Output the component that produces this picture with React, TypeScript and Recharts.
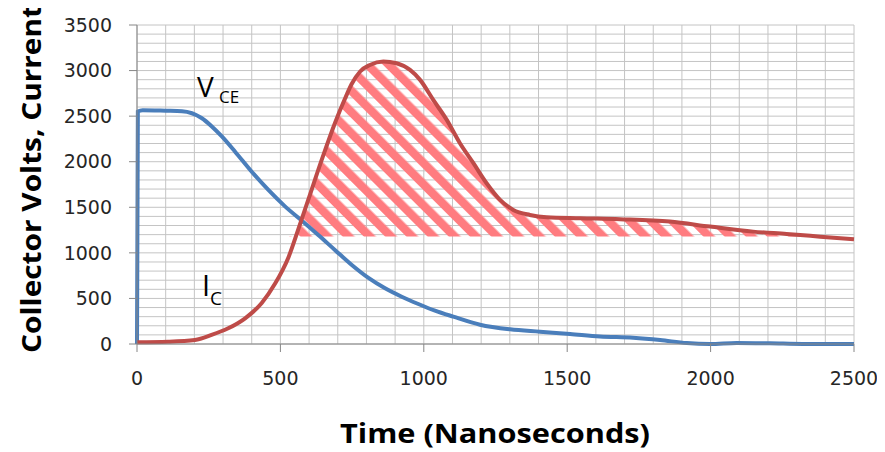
import React from "react";
import { ComposedChart, Line, Area, XAxis, YAxis, CartesianGrid } from "recharts";

// V_CE trace (blue)
const vceTime = [0, 3, 20, 100, 157, 225, 260, 295, 342, 400, 458, 516, 574, 632, 690, 749, 807, 865, 923, 981, 1039, 1103, 1196, 1301, 1405, 1510, 1614, 1730, 1824, 1917, 1998, 2091, 2207, 2322, 2400, 2500];
const vceVals = [0, 2550, 2565, 2560, 2555, 2480, 2390, 2280, 2110, 1890, 1690, 1510, 1355, 1196, 1032, 867, 725, 611, 519, 439, 366, 300, 212, 161, 135, 110, 82, 69, 44, 10, 0, 12, 8, 0, 0, 0];

// I_C trace (red)
const icTime = [0, 108, 202, 260, 318, 377, 435, 481, 528, 562, 597, 644, 690, 725, 748, 778, 812, 859, 905, 952, 987, 1033, 1080, 1126, 1173, 1219, 1266, 1312, 1370, 1428, 1545, 1684, 1858, 1998, 2148, 2265, 2382, 2500];
const icVals = [19, 25, 44, 99, 172, 282, 450, 660, 950, 1255, 1581, 2020, 2423, 2690, 2850, 2990, 3062, 3099, 3081, 3007, 2898, 2678, 2459, 2203, 1984, 1764, 1581, 1471, 1416, 1391, 1380, 1369, 1343, 1288, 1233, 1207, 1178, 1149];

// level the hatched area sits on
const hatchFloor = 1180;

const xLabelTicks = [0, 500, 1000, 1500, 2000, 2500];
const yLabelTicks = [0, 500, 1000, 1500, 2000, 2500, 3000, 3500];
const xGrid = Array.from({ length: 26 }, (_, i) => i * 100);
const yGrid = Array.from({ length: 36 }, (_, i) => i * 100);

const vceData = vceTime.map((t, i) => ({ t, vce: vceVals[i] }));
const icData = icTime.map((t, i) => ({ t, ic: icVals[i] }));
const hatchData = icTime.map((t, i) => ({ t, band: [hatchFloor, Math.max(icVals[i], hatchFloor)] }));

const AXIS = "#868686";
const TXT = "#262626";
const TICK_FONT = "'DejaVu Sans', sans-serif";
const XM = 28;
const YM = 25;

const XTick = (p: any) => {
  const v = p.payload.value;
  if (!xLabelTicks.includes(v)) return <g />;
  return (
    <g>
      <line x1={p.x} x2={p.x} y1={p.y - XM} y2={p.y - XM + 8} stroke={AXIS} />
      <text x={p.x} y={p.y} dy="0.71em" textAnchor="middle" fontSize={19} fontFamily={TICK_FONT} fill={TXT}>{v}</text>
    </g>
  );
};

const YTick = (p: any) => {
  const v = p.payload.value;
  if (!yLabelTicks.includes(v)) return <g />;
  return (
    <g>
      <line x1={p.x + YM - 8} x2={p.x + YM} y1={p.y} y2={p.y} stroke={AXIS} />
      <text x={p.x} y={p.y} dy="0.355em" textAnchor="end" fontSize={19} fontFamily={TICK_FONT} fill={TXT}>{v}</text>
    </g>
  );
};

export default function App() {
  return (
    <div style={{ position: "relative", width: 877, height: 444 }}>
      <ComposedChart width={877} height={444} margin={{ top: 17, right: 31, left: 29, bottom: 48 }}>
        <defs>
          <pattern id="hatch" patternUnits="userSpaceOnUse" width={15} height={15} patternTransform="rotate(-45)">
            <rect x={0} y={0} width={8.5} height={15} fill="#FF7C80" />
          </pattern>
        </defs>
        <CartesianGrid stroke="#c4c4c4" strokeWidth={1} />
        <XAxis dataKey="t" type="number" domain={[0, 2500]} ticks={xGrid} interval={0}
          allowDuplicatedCategory={false} height={60} stroke={AXIS} tickLine={false} tickSize={0} tickMargin={XM} tick={<XTick />} />
        <YAxis type="number" domain={[0, 3500]} ticks={yGrid} interval={0} width={100}
          stroke={AXIS} tickLine={false} tickSize={0} tickMargin={YM} tick={<YTick />} />
        <Line data={vceData} dataKey="vce" type="monotone" stroke="#4A7EBB" strokeWidth={4} dot={false} isAnimationActive={false} />
        <Line data={icData} dataKey="ic" type="monotone" stroke="#BE4B48" strokeWidth={4} dot={false} isAnimationActive={false} />
        <Area data={hatchData} dataKey="band" type="monotone" stroke="none" fill="url(#hatch)" fillOpacity={1} isAnimationActive={false} />
      </ComposedChart>
      <svg width={877} height={444} style={{ position: "absolute", left: 0, top: 0, pointerEvents: "none" }}>
        <text transform="translate(33,171) rotate(-90)" textAnchor="middle" fontFamily="'Open Sans', sans-serif" fontWeight="bold" fontSize={26} textLength={348} lengthAdjust="spacingAndGlyphs" fill="#000">Collector Volts, Current</text>
        <text x={487} y={435} textAnchor="middle" fontFamily="'Open Sans', sans-serif" fontWeight="bold" fontSize={26} textLength={310} lengthAdjust="spacingAndGlyphs" fill="#000">Time (Nanoseconds)</text>
        <text x={189} y={89} fontFamily="'Open Sans', sans-serif" fontSize={28} fill="#000">V</text>
        <text x={211} y={95} fontFamily="'Open Sans', sans-serif" fontSize={17} fill="#000">CE</text>
        <text x={194} y={288} fontFamily="'Open Sans', sans-serif" fontSize={29} fill="#000">I</text>
        <text x={202} y={297} fontFamily="'Open Sans', sans-serif" fontSize={19} fill="#000">C</text>
      </svg>
    </div>
  );
}
